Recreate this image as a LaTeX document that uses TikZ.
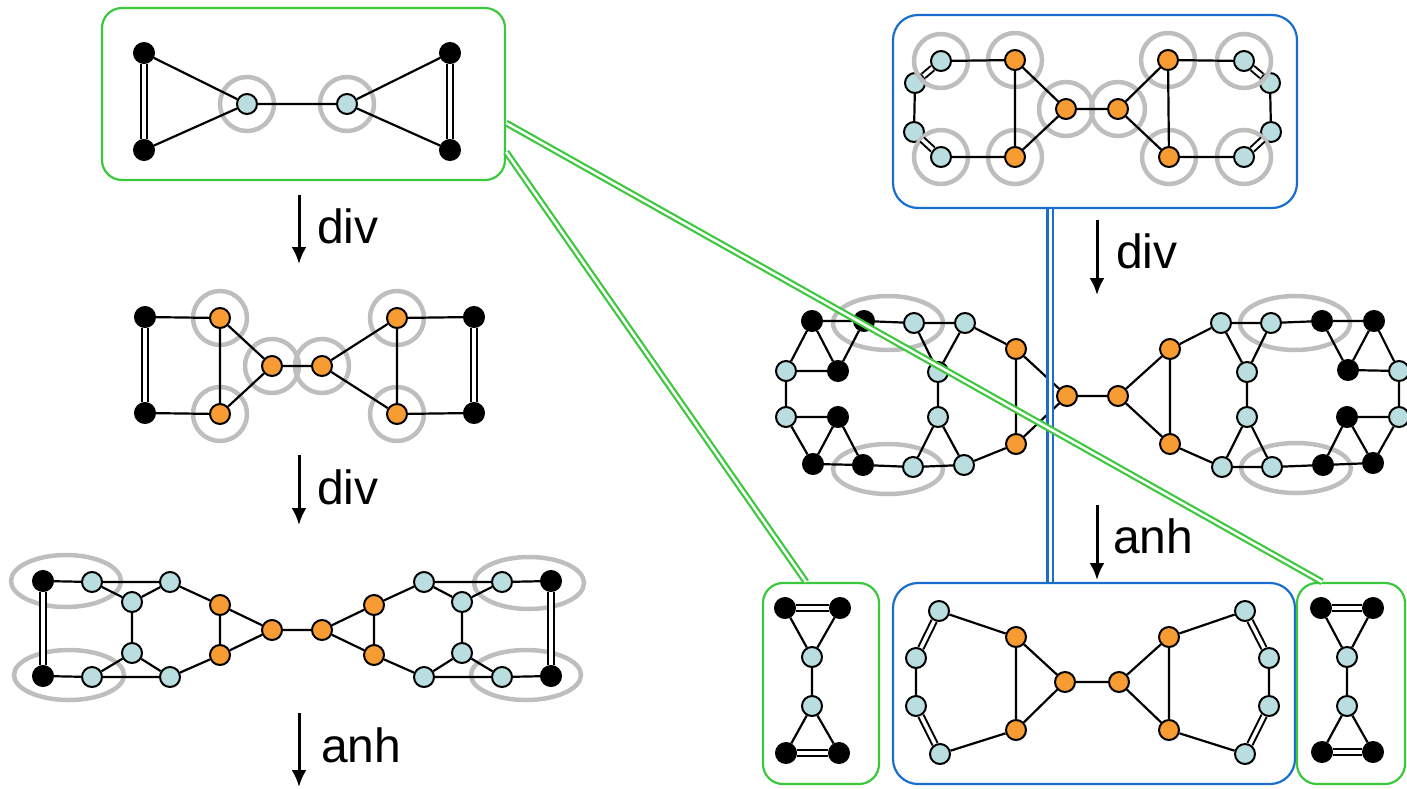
\documentclass[tikz,border=0pt]{standalone}
\usepackage{fontspec}
\setmainfont{Liberation Sans}
\usetikzlibrary{arrows.meta}

\definecolor{atomblue}{RGB}{186,222,224}
\definecolor{atomorange}{RGB}{247,155,51}
\definecolor{ringgray}{RGB}{190,190,190}
\definecolor{boxgreen}{RGB}{60,200,60}
\definecolor{boxblue}{RGB}{25,110,205}

\tikzset{
  atom/.style={circle, draw=black, line width=2pt, minimum size=20pt, inner sep=0pt},
  bk/.style={atom, fill=black},
  lb/.style={atom, fill=atomblue},
  og/.style={atom, fill=atomorange},
  ring/.style={draw=ringgray, line width=4.5pt},
  bond/.style={line width=2.2pt},
  dbond/.style={line width=2pt, double=white, double distance=3.5pt},
  gbox/.style={draw=boxgreen, line width=2.2pt, rounded corners=20pt, inner sep=0pt},
  bbox/.style={draw=boxblue, line width=2.2pt, rounded corners=25pt, inner sep=0pt},
  glink/.style={draw=boxgreen, line width=2.2pt, double=white, double distance=2.5pt},
  blink/.style={draw=boxblue, line width=2.4pt, double=white, double distance=3pt},
  lbl/.style={font=\fontsize{48}{56}\selectfont, inner sep=0pt, anchor=base west},
  opline/.style={->, line width=3pt}
}

\begin{document}
\begin{tikzpicture}[x=1pt,y=-1pt,>={Latex[length=17pt,width=15pt]}]
\useasboundingbox (0,0) rectangle (1407,788);

% Boxes
\node[gbox, minimum width=403pt, minimum height=172pt] (boxA) at (303.5,94) {};
\node[bbox, minimum width=404pt, minimum height=193pt] (boxD) at (1095,111.5) {};
\node[bbox, minimum width=402pt, minimum height=201pt] (boxF) at (1094,683.5) {};
\node[gbox, minimum width=116pt, minimum height=201pt] (boxG) at (821,683.5) {};
\node[gbox, minimum width=108pt, minimum height=201pt] (boxH) at (1351,683.5) {};

% Graph A (top left)
\node[bk] (a1) at (144,53) {};
\node[bk] (a2) at (144,150) {};
\node[lb] (a3) at (247,104) {};
\node[lb] (a4) at (347,104) {};
\node[bk] (a5) at (450,53) {};
\node[bk] (a6) at (450,150) {};
\draw[ring] (a3) circle[radius=27pt] (a4) circle[radius=27pt];
\draw[dbond] (a1) -- (a2) (a5) -- (a6);
\draw[bond] (a1) -- (a3) (a2) -- (a3) (a3) -- (a4) (a5) -- (a4) (a6) -- (a4);

% Graph B
\node[bk] (b1) at (145,317) {};
\node[bk] (b2) at (145,413) {};
\node[og] (b3) at (220,318) {};
\node[og] (b4) at (220,414) {};
\node[og] (b5) at (272,366) {};
\node[og] (b6) at (322,366) {};
\node[og] (b7) at (397,318) {};
\node[og] (b8) at (397,414) {};
\node[bk] (b9) at (474,317) {};
\node[bk] (b10) at (474,413) {};
\foreach \n in {b3,b4,b5,b6,b7,b8}
  \draw[ring] (\n) circle[radius=27pt];
\draw[dbond] (b1) -- (b2) (b9) -- (b10);
\draw[bond] (b1) -- (b3) (b2) -- (b4) (b3) -- (b4) (b3) -- (b5) (b4) -- (b5)
  (b5) -- (b6) (b6) -- (b7) (b6) -- (b8) (b7) -- (b8) (b7) -- (b9) (b8) -- (b10);

% Graph C
\node[bk] (c1) at (43,581) {};
\node[bk] (c2) at (43,676) {};
\node[lb] (c3) at (92,582) {};
\node[lb] (c4) at (92,677) {};
\node[lb] (c5) at (132,602) {};
\node[lb] (c6) at (132,653) {};
\node[lb] (c7) at (170,582) {};
\node[lb] (c8) at (170,677) {};
\node[og] (c9) at (220,605) {};
\node[og] (c10) at (220,655) {};
\node[og] (c11) at (272,630) {};
\node[og] (c12) at (322,630) {};
\node[og] (c13) at (374,605) {};
\node[og] (c14) at (374,655) {};
\node[lb] (c15) at (424,582) {};
\node[lb] (c16) at (424,677) {};
\node[lb] (c17) at (462,602) {};
\node[lb] (c18) at (462,653) {};
\node[lb] (c19) at (502,582) {};
\node[lb] (c20) at (502,677) {};
\node[bk] (c21) at (551,581) {};
\node[bk] (c22) at (551,676) {};
\draw[ring] (66,581) ellipse[x radius=55pt, y radius=26pt]
  (69,675) ellipse[x radius=55pt, y radius=25pt]
  (529,583) ellipse[x radius=55pt, y radius=26pt]
  (526,675) ellipse[x radius=55pt, y radius=25pt];
\draw[dbond] (c1) -- (c2) (c21) -- (c22);
\draw[bond] (c1) -- (c3) (c3) -- (c7) (c3) -- (c5) (c5) -- (c7) (c5) -- (c6)
  (c6) -- (c4) (c6) -- (c8) (c4) -- (c8) (c4) -- (c2) (c7) -- (c9) (c9) -- (c10)
  (c9) -- (c11) (c10) -- (c11) (c10) -- (c8) (c11) -- (c12) (c12) -- (c13)
  (c12) -- (c14) (c13) -- (c14) (c13) -- (c15) (c14) -- (c16) (c15) -- (c19)
  (c15) -- (c17) (c17) -- (c19) (c17) -- (c18) (c18) -- (c16) (c18) -- (c20)
  (c16) -- (c20) (c19) -- (c21) (c20) -- (c22);

% Graph D (top right)
\node[lb] (d1) at (941,61) {};
\node[lb] (d2) at (915,83) {};
\node[lb] (d3) at (914,132) {};
\node[lb] (d4) at (941,157) {};
\node[og] (d5) at (1015,60) {};
\node[og] (d6) at (1015,157) {};
\node[og] (d7) at (1066,109) {};
\node[og] (d8) at (1118,109) {};
\node[og] (d9) at (1168,60) {};
\node[og] (d10) at (1169,157) {};
\node[lb] (d11) at (1244,61) {};
\node[lb] (d12) at (1270,83) {};
\node[lb] (d13) at (1271,132) {};
\node[lb] (d14) at (1244,157) {};
\foreach \n in {d1,d4,d5,d6,d7,d8,d9,d10,d11,d14}
  \draw[ring] (\n) circle[radius=27pt];
\draw[dbond] (d1) -- (d2) (d3) -- (d4) (d11) -- (d12) (d13) -- (d14);
\draw[bond] (d2) -- (d3) (d1) -- (d5) (d4) -- (d6) (d5) -- (d6) (d5) -- (d7)
  (d6) -- (d7) (d7) -- (d8) (d8) -- (d9) (d8) -- (d10) (d9) -- (d10)
  (d9) -- (d11) (d10) -- (d14) (d12) -- (d13);

% Graph E (middle right)
\node[bk] (e1) at (812,321) {};
\node[bk] (e2) at (864,321) {};
\node[lb] (e3) at (914,323) {};
\node[lb] (e4) at (965,323) {};
\node[lb] (e5) at (786,371) {};
\node[bk] (e6) at (838,371) {};
\node[lb] (e7) at (938,372) {};
\node[lb] (e8) at (786,417) {};
\node[bk] (e9) at (838,417) {};
\node[lb] (e10) at (938,417) {};
\node[bk] (e11) at (813,464) {};
\node[bk] (e12) at (863,465) {};
\node[lb] (e13) at (913,467) {};
\node[lb] (e14) at (964,465) {};
\node[og] (e15) at (1016,349) {};
\node[og] (e16) at (1016,444) {};
\node[og] (e17) at (1067,396) {};
\node[og] (e18) at (1118,396) {};
\node[og] (e19) at (1170,349) {};
\node[og] (e20) at (1170,444) {};
\node[lb] (e21) at (1221,323) {};
\node[lb] (e22) at (1271,323) {};
\node[bk] (e23) at (1322,321) {};
\node[bk] (e24) at (1374,321) {};
\node[lb] (e25) at (1247,372) {};
\node[bk] (e26) at (1348,370) {};
\node[lb] (e27) at (1399,371) {};
\node[lb] (e28) at (1247,417) {};
\node[bk] (e29) at (1347,417) {};
\node[lb] (e30) at (1399,417) {};
\node[lb] (e31) at (1222,467) {};
\node[lb] (e32) at (1272,467) {};
\node[bk] (e33) at (1323,465) {};
\node[bk] (e34) at (1373,463) {};
\draw[ring] (888,323) ellipse[x radius=55pt, y radius=27pt]
  (888,469) ellipse[x radius=55pt, y radius=25pt]
  (1295,323) ellipse[x radius=55pt, y radius=27pt]
  (1296,468) ellipse[x radius=55pt, y radius=25pt];
\draw[bond] (e1) -- (e2) (e2) -- (e3) (e3) -- (e4) (e1) -- (e5) (e1) -- (e6)
  (e2) -- (e6) (e5) -- (e6) (e5) -- (e8) (e8) -- (e9) (e8) -- (e11) (e9) -- (e11)
  (e9) -- (e12) (e11) -- (e12) (e12) -- (e13) (e13) -- (e14) (e3) -- (e7)
  (e4) -- (e7) (e7) -- (e10) (e10) -- (e13) (e10) -- (e14) (e4) -- (e15)
  (e14) -- (e16) (e15) -- (e16) (e15) -- (e17) (e16) -- (e17) (e17) -- (e18)
  (e18) -- (e19) (e18) -- (e20) (e19) -- (e20) (e19) -- (e21) (e20) -- (e31)
  (e21) -- (e22) (e22) -- (e23) (e23) -- (e24) (e21) -- (e25) (e22) -- (e25)
  (e25) -- (e28) (e28) -- (e31) (e28) -- (e32) (e31) -- (e32) (e32) -- (e33)
  (e33) -- (e34) (e23) -- (e26) (e24) -- (e26) (e24) -- (e27) (e26) -- (e27)
  (e27) -- (e30) (e29) -- (e30) (e29) -- (e33) (e29) -- (e34) (e34) -- (e30);

% Graph F (bottom right)
\node[lb] (f1) at (939,611) {};
\node[lb] (f2) at (916,658) {};
\node[lb] (f3) at (916,706) {};
\node[lb] (f4) at (940,754) {};
\node[og] (f5) at (1016,637) {};
\node[og] (f6) at (1016,730) {};
\node[og] (f7) at (1065,682) {};
\node[og] (f8) at (1119,682) {};
\node[og] (f9) at (1169,637) {};
\node[og] (f10) at (1169,730) {};
\node[lb] (f11) at (1245,611) {};
\node[lb] (f12) at (1269,658) {};
\node[lb] (f13) at (1269,706) {};
\node[lb] (f14) at (1245,754) {};
\draw[dbond] (f1) -- (f2) (f3) -- (f4) (f11) -- (f12) (f13) -- (f14);
\draw[bond] (f2) -- (f3) (f1) -- (f5) (f4) -- (f6) (f5) -- (f6) (f5) -- (f7)
  (f6) -- (f7) (f7) -- (f8) (f8) -- (f9) (f8) -- (f10) (f9) -- (f10)
  (f9) -- (f11) (f10) -- (f14) (f12) -- (f13);

% Small fragments
\node[bk] (g1) at (785,608) {};
\node[bk] (g2) at (840,608) {};
\node[lb] (g3) at (812,657) {};
\node[lb] (g4) at (812,706) {};
\node[bk] (g5) at (786,753) {};
\node[bk] (g6) at (839,753) {};
\draw[dbond] (g1) -- (g2) (g5) -- (g6);
\draw[bond] (g1) -- (g3) (g2) -- (g3) (g3) -- (g4) (g4) -- (g5) (g4) -- (g6);

\node[bk] (h1) at (1321,608) {};
\node[bk] (h2) at (1373,608) {};
\node[lb] (h3) at (1347,657) {};
\node[lb] (h4) at (1347,706) {};
\node[bk] (h5) at (1322,752) {};
\node[bk] (h6) at (1373,752) {};
\draw[dbond] (h1) -- (h2) (h5) -- (h6);
\draw[bond] (h1) -- (h3) (h2) -- (h3) (h3) -- (h4) (h4) -- (h5) (h4) -- (h6);

% Operation arrows
\coordinate (s1) at (299,195); \coordinate (t1) at (299,264);
\coordinate (s2) at (299,455); \coordinate (t2) at (299,525);
\coordinate (s3) at (299,713); \coordinate (t3) at (299,787);
\coordinate (s4) at (1097,220); \coordinate (t4) at (1097,295);
\coordinate (s5) at (1097,505); \coordinate (t5) at (1097,580);
\draw[opline] (s1) -- (t1);
\draw[opline] (s2) -- (t2);
\draw[opline] (s3) -- (t3);
\draw[opline] (s4) -- (t4);
\draw[opline] (s5) -- (t5);
\node[lbl] (op1) at (317,243) {div};
\node[lbl] (op2) at (317,504) {div};
\node[lbl] (op3) at (321,762) {anh};
\node[lbl] (op4) at (1116,268) {div};
\node[lbl] (op5) at (1113,553) {anh};

% Links between boxes
\draw[blink] ([xshift=-45pt]boxD.south) -- ([xshift=-45pt]boxD.south |- boxF.north);
\draw[glink] ([yshift=-29pt]boxA.east) -- ([xshift=-29pt]boxH.north);
\draw[glink] ([yshift=-58pt]boxA.east) -- ([xshift=-15pt]boxG.north);

\end{tikzpicture}
\end{document}
